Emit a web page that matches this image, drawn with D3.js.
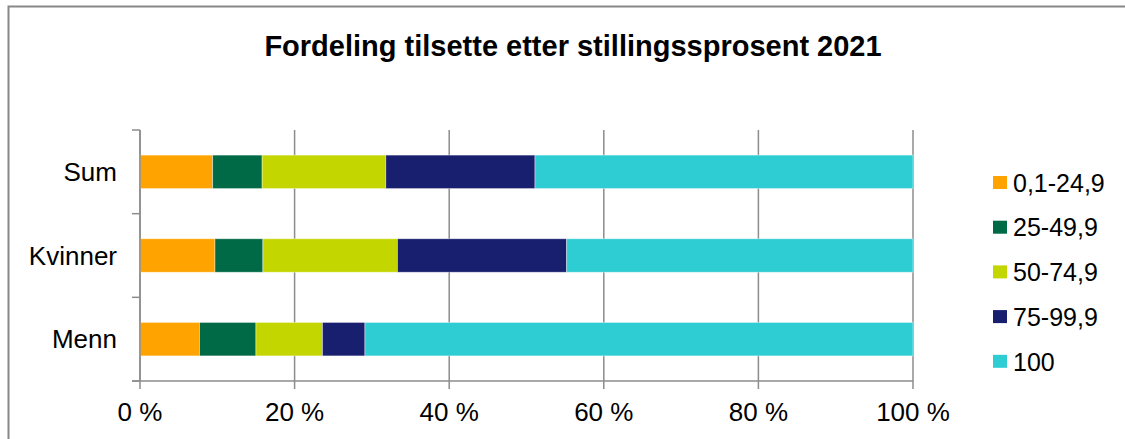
<!DOCTYPE html>
<html>
<head>
<meta charset="utf-8">
<script src="https://cdn.jsdelivr.net/npm/d3@7"></script>
<style>
  body { margin: 0; background: #fff; }
  svg text { font-family: Arial, "Liberation Sans", sans-serif; fill: #000; }
</style>
</head>
<body>
<div id="chart"></div>
<script>
// categories top to bottom
var categories = ["Sum", "Kvinner", "Menn"];
var seriesNames = ["0,1-24,9", "25-49,9", "50-74,9", "75-99,9", "100"];
var seriesColors = ["#FFA300", "#006A46", "#C4D600", "#171F6E", "#2ECCD3"];
// percent shares per category
var s0 = [9.4, 9.7, 7.7];
var s1 = [6.4, 6.2, 7.3];
var s2 = [16.0, 17.4, 8.6];
var s3 = [19.3, 21.9, 5.5];
var s4 = [48.9, 44.8, 70.9];
var xTicks = [0, 20, 40, 60, 80, 100];

var width = 1125, height = 439;
var margin = {left: 140, right: 212, top: 130, bottom: 58};

var svg = d3.select("#chart").append("svg")
	.attr("width", width).attr("height", height);

// outer frame
svg.append("rect").attr("x", 8.5).attr("y", 6.5)
	.attr("width", width + 10).attr("height", height + 10)
	.attr("fill", "none").attr("stroke", "#888").attr("stroke-width", 2);

svg.append("text").attr("x", 573).attr("y", 56)
	.attr("text-anchor", "middle")
	.style("font-size", "29px").style("font-weight", "bold")
	.text("Fordeling tilsette etter stillingssprosent 2021");

var x = d3.scaleLinear().domain([0, 100]).range([margin.left, 913]);
var y = d3.scaleBand().domain(categories).range([margin.top, height - margin.bottom])
	.paddingInner(0.6).paddingOuter(0.3);
var yb = d3.scaleBand().domain(categories).range([margin.top, height - margin.bottom]);

// gridlines
svg.append("g").selectAll("line").data(xTicks).enter().append("line")
	.attr("x1", function(d) { return x(d); }).attr("x2", function(d) { return x(d); })
	.attr("y1", margin.top).attr("y2", height - margin.bottom + 8)
	.attr("stroke", "#8c8c8c").attr("stroke-width", 1.5);

// stacked bars
var data = categories.map(function(c, i) {
	return {cat: c, "0": s0[i], "1": s1[i], "2": s2[i], "3": s3[i], "4": s4[i]};
});
var stack = d3.stack().keys(["0", "1", "2", "3", "4"]);
var layers = stack(data);

svg.append("g").selectAll("g").data(layers).enter().append("g")
	.attr("fill", function(d, i) { return seriesColors[i]; })
	.selectAll("rect").data(function(d) { return d; }).enter().append("rect")
	.attr("x", function(d) { return x(d[0]); })
	.attr("width", function(d) { return x(d[1]) - x(d[0]); })
	.attr("y", function(d) { return y(d.data.cat); })
	.attr("height", y.bandwidth())
	.attr("stroke", "#ffffff").attr("stroke-opacity", 0.5).attr("stroke-width", 0.8);

// category axis
var yAxisG = svg.append("g");
yAxisG.append("line").attr("x1", margin.left).attr("x2", margin.left)
	.attr("y1", margin.top).attr("y2", height - margin.bottom)
	.attr("stroke", "#8c8c8c").attr("stroke-width", 1.5);
var bounds = categories.map(function(c) { return yb(c); }).concat([height - margin.bottom]);
yAxisG.selectAll("line.tick").data(bounds).enter().append("line").attr("class", "tick")
	.attr("x1", margin.left - 8).attr("x2", margin.left)
	.attr("y1", function(d) { return d; }).attr("y2", function(d) { return d; })
	.attr("stroke", "#8c8c8c").attr("stroke-width", 1.5);
yAxisG.selectAll("text").data(categories).enter().append("text")
	.attr("x", margin.left - 23)
	.attr("y", function(d) { return yb(d) + yb.bandwidth() / 2; })
	.attr("dy", "0.35em").attr("text-anchor", "end")
	.style("font-size", "26px")
	.text(function(d) { return d; });

// x axis
var xAxisG = svg.append("g");
xAxisG.append("line").attr("x1", margin.left - 8).attr("x2", x(100))
	.attr("y1", height - margin.bottom).attr("y2", height - margin.bottom)
	.attr("stroke", "#8c8c8c").attr("stroke-width", 1.5);
xAxisG.selectAll("text").data(xTicks).enter().append("text")
	.attr("x", function(d) { return x(d); })
	.attr("y", 421)
	.attr("text-anchor", "middle")
	.style("font-size", "26px")
	.text(function(d) { return d + " %"; });

// legend
var legend = svg.append("g").selectAll("g").data(seriesNames).enter().append("g")
	.attr("transform", function(d, i) { return "translate(993," + (183 + i * 44.7) + ")"; });
legend.append("rect").attr("x", 0).attr("y", -7).attr("width", 14).attr("height", 13)
	.attr("fill", function(d, i) { return seriesColors[i]; });
legend.append("text").attr("x", 20).attr("dy", "0.35em")
	.style("font-size", "25px")
	.text(function(d) { return d; });
</script>
</body>
</html>
